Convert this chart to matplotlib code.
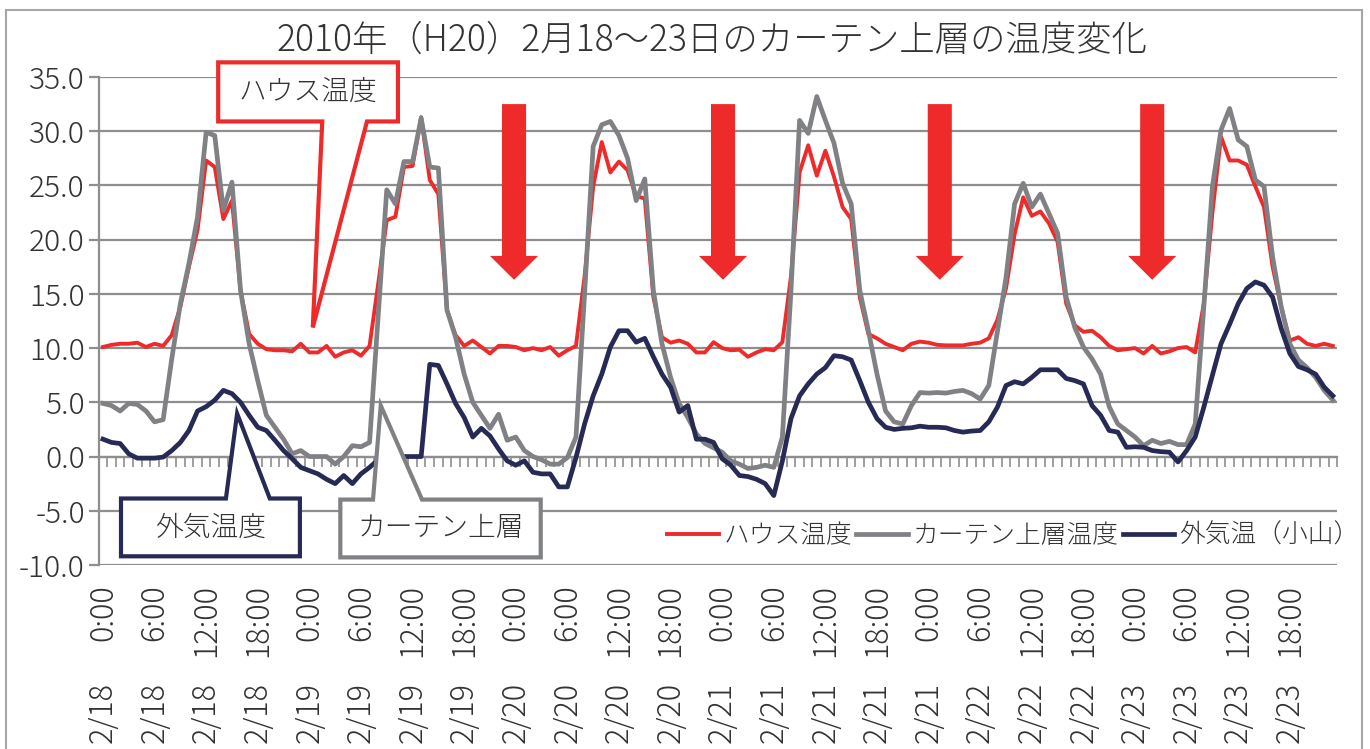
import numpy as np
import matplotlib
matplotlib.use('Agg')
import matplotlib.pyplot as plt
import matplotlib.transforms as mtransforms
from matplotlib.patches import Polygon, Rectangle

plt.rcParams['font.family'] = ['Noto Sans CJK JP', 'DejaVu Sans']
plt.rcParams['font.weight'] = 'light'

# hourly values 2/18 0:00 - 2/23 23:00
house = [10.1, 10.3, 10.4, 10.4, 10.5, 10.1, 10.4, 10.2,
         11.2, 13.8, 17.5, 20.9, 27.3, 26.7, 21.9, 23.6,
         15.3, 11.3, 10.4, 9.9, 9.8, 9.8, 9.7, 10.4,
         9.6, 9.6, 10.2, 9.2, 9.6, 9.8, 9.3, 10.2,
         15.9, 21.8, 22.1, 26.7, 26.8, 31.3, 25.5, 24.2,
         13.5, 11.2, 10.2, 10.7, 10.1, 9.5, 10.2, 10.2,
         10.1, 9.8, 10.0, 9.8, 10.1, 9.3, 9.8, 10.2,
         16.6, 24.9, 29.0, 26.2, 27.2, 26.4, 24.0, 23.8,
         14.7, 11.0, 10.5, 10.7, 10.4, 9.6, 9.6, 10.55,
         10.0, 9.8, 9.85, 9.2, 9.6, 9.9, 9.8, 10.55,
         16.6, 26.2, 28.7, 25.9, 28.2, 25.8, 23.0, 21.9,
         14.7, 11.3, 10.9, 10.4, 10.1, 9.8, 10.4, 10.6,
         10.5, 10.3, 10.25, 10.25, 10.25, 10.4, 10.5, 10.9,
         12.6, 15.5, 20.5, 23.9, 22.2, 22.6, 21.5, 19.8,
         14.1, 12.1, 11.5, 11.6, 11.0, 10.2, 9.8, 9.9,
         10.0, 9.5, 10.2, 9.5, 9.7, 10.0, 10.1, 9.6,
         14.1, 22.5, 29.5, 27.3, 27.3, 26.9, 24.9, 23.0,
         17.5, 13.8, 10.7, 11.0, 10.4, 10.2, 10.4, 10.2]

curtain = [4.9, 4.7, 4.2, 4.9, 4.8, 4.2, 3.2, 3.4,
           9.0, 14.1, 17.8, 22.1, 29.9, 29.6, 22.7, 25.3,
           15.3, 10.4, 7.0, 3.8, 2.7, 1.6, 0.25, 0.55,
           0.0, 0.0, 0.0, -0.7, 0.0, 1.0, 0.9, 1.3,
           13.0, 24.6, 23.3, 27.2, 27.2, 31.2, 26.7, 26.6,
           13.5, 11.0, 7.6, 5.0, 3.8, 2.6, 3.9, 1.5,
           1.8, 0.55, 0.0, -0.3, -0.7, -0.7, -0.1, 1.8,
           15.0, 28.6, 30.6, 30.9, 29.6, 27.5, 23.6, 25.6,
           15.3, 10.4, 7.3, 4.9, 3.6, 2.1, 1.2, 0.8,
           0.4, -0.4, -0.7, -1.1, -1.0, -0.8, -1.0, 1.8,
           15.3, 31.0, 29.8, 33.2, 31.0, 28.9, 25.2, 23.3,
           15.3, 11.6, 7.6, 4.2, 3.2, 3.0, 4.7, 5.9,
           5.85, 5.9, 5.85, 6.0, 6.1, 5.8, 5.3, 6.55,
           11.5, 16.5, 23.3, 25.2, 23.0, 24.2, 22.4, 20.6,
           14.7, 11.9, 10.1, 9.0, 7.6, 4.6, 3.0, 2.4,
           1.8, 1.0, 1.5, 1.2, 1.4, 1.1, 1.1, 3.0,
           13.8, 24.9, 30.1, 32.1, 29.2, 28.6, 25.5, 24.9,
           18.4, 13.8, 10.4, 8.9, 8.2, 7.3, 6.1, 5.2]

outside = [1.6, 1.3, 1.2, 0.25, -0.15, -0.15, -0.15, -0.05,
           0.55, 1.3, 2.4, 4.2, 4.6, 5.2, 6.1, 5.8,
           5.0, 3.8, 2.7, 2.4, 1.5, 0.55, -0.2, -1.0,
           -1.3, -1.6, -2.1, -2.5, -1.75, -2.5, -1.6, -1.0,
           -0.3, 0.0, 0.0, 0.0, 0.0, 0.0, 8.5, 8.4,
           6.7, 4.9, 3.6, 1.8, 2.6, 1.9, 0.7, -0.4,
           -0.8, -0.4, -1.45, -1.6, -1.6, -2.8, -2.8, -0.1,
           3.0, 5.6, 7.6, 10.1, 11.6, 11.6, 10.55, 10.9,
           9.2, 7.6, 6.4, 4.1, 4.7, 1.6, 1.6, 1.3,
           -0.2, -0.8, -1.75, -1.85, -2.1, -2.5, -3.6, -0.4,
           3.5, 5.6, 6.7, 7.6, 8.2, 9.3, 9.2, 8.9,
           7.0, 5.0, 3.5, 2.7, 2.5, 2.6, 2.65, 2.8,
           2.7, 2.7, 2.65, 2.4, 2.25, 2.35, 2.4, 3.2,
           4.55, 6.55, 6.9, 6.7, 7.3, 8.0, 8.0, 8.0,
           7.2, 7.0, 6.7, 4.7, 3.8, 2.4, 2.25, 0.85,
           0.9, 0.85, 0.55, 0.45, 0.4, -0.5, 0.55, 1.8,
           4.55, 7.5, 10.4, 12.2, 14.1, 15.5, 16.1, 15.8,
           14.7, 11.8, 9.5, 8.3, 8.0, 7.6, 6.4, 5.6]

times = ["0:00", "6:00", "12:00", "18:00"] * 6
dates = ["2/18"] * 4 + ["2/19"] * 4 + ["2/20"] * 4 + ["2/21"] * 5 + ["2/22"] * 3 + ["2/23"] * 4

names = ["ハウス温度", "カーテン上層温度", "外気温（小山）"]
title = "2010年（H20）2月18～23日のカーテン上層の温度変化"

red = '#EE2A2A'
grey = '#808184'
navy = '#272A55'
txt = '#333333'
gridc = '#8E8E8E'

x = np.arange(len(house))

fig = plt.figure(figsize=(13.7, 7.49), dpi=100)
ax = fig.add_axes([0.072, 0.2457, 0.904, 0.6515])

ax.plot(x, house, color=red, lw=2.8, label=names[0], zorder=3)
ax.plot(x, curtain, color=grey, lw=3.4, label=names[1], zorder=4)
ax.plot(x, outside, color=navy, lw=3.4, label=names[2], zorder=5)

ymin, ymax = -10, 35
ax.set_xlim(-0.5, len(x) - 0.5)
ax.set_ylim(ymin, ymax)
ax.set_yticks(np.arange(ymin, ymax + 1, 5))
ax.set_yticklabels(["%.1f" % v for v in np.arange(ymin, ymax + 1, 5)])
ax.yaxis.grid(True, color=gridc, lw=1.6)
ax.set_axisbelow(True)
for s in ['top', 'right', 'bottom']:
    ax.spines[s].set_visible(False)
ax.spines['left'].set_color(gridc)
ax.spines['left'].set_linewidth(1.6)
ax.tick_params(axis='y', colors=gridc, labelcolor=txt, labelsize=21.5,
               length=7, width=1.6, pad=3)

# time labels at the bottom
ax.set_xticks(x[::6])
ax.set_xticklabels(times, rotation=90, fontsize=22, color=txt)
ax.tick_params(axis='x', length=0, pad=14)

# category axis drawn through zero
sec = ax.secondary_xaxis((0 - ymin) / (ymax - ymin))
sec.set_xticks(np.arange(-0.5, len(x), 1))
sec.set_xticklabels([])
sec.spines['bottom'].set_color(gridc)
sec.spines['bottom'].set_linewidth(1.6)
sec.tick_params(axis='x', direction='out', length=7, width=1.2, color=gridc)

# date labels, second row
trans = mtransforms.blended_transform_factory(ax.transData, fig.transFigure)
for xi, d in zip(x[::6], dates):
    ax.text(xi, 1 - 682 / 749, d, rotation=90, ha='center', va='top',
            fontsize=22, color=txt, transform=trans)

# red down arrows
arrow_x = [47.8, 72.1, 97.3, 122.0]
arrow_top, arrow_neck, arrow_tip = 32.5, 18.5, 16.3
shaft_w, head_w = 1.4, 2.8
for ca in arrow_x:
    pts = [(ca - shaft_w, arrow_top), (ca + shaft_w, arrow_top),
           (ca + shaft_w, arrow_neck), (ca + head_w, arrow_neck),
           (ca, arrow_tip), (ca - head_w, arrow_neck),
           (ca - shaft_w, arrow_neck)]
    ax.add_patch(Polygon(pts, closed=True, facecolor=red, edgecolor='none', zorder=6))


def callout(box, base, tip, side, color, label):
    L, R, B, T = box
    if side == 'bottom':
        pts = [(L, T), (R, T), (R, B), (base[1], B), tip, (base[0], B), (L, B)]
    else:
        pts = [(L, B), (R, B), (R, T), (base[1], T), tip, (base[0], T), (L, T)]
    ax.add_patch(Polygon(pts, closed=True, facecolor='white', edgecolor=color,
                         lw=3.0, joinstyle='miter', zorder=7, clip_on=False))
    ax.text((L + R) / 2, (B + T) / 2, label, ha='center', va='center',
            fontsize=20, color=txt, zorder=8, clip_on=False)


callout((13.4, 34.3, 30.9, 36.35), (25.5, 30.7), (24.4, 11.9), 'bottom', red, "ハウス温度")
callout((2.1, 22.9, -9.2, -3.87), (14.3, 19.4), (15.6, 3.97), 'top', navy, "外気温度")
callout((27.6, 50.9, -9.3, -3.97), (31.4, 37.1), (32.3, 4.7), 'top', grey, "カーテン上層")

leg = ax.legend(loc='center right', bbox_to_anchor=(1.018, 0.06), ncol=3, frameon=False,
                fontsize=18.5, handlelength=2.0, handletextpad=0.2, columnspacing=0.15,
                borderaxespad=0, borderpad=0)
for t in leg.get_texts():
    t.set_color(txt)

fig.text(0.52, 1 - 40 / 749, title, ha='center', va='center', fontsize=25.5, color=txt)

# outer chart frame
fig.patches.append(Rectangle((6 / 1370, -0.1), 1356 / 1370, 1.1 - 10 / 749,
                             transform=fig.transFigure, fill=False,
                             edgecolor='#A6A6A6', lw=1.5))

fig.savefig('out.png', dpi=100)
